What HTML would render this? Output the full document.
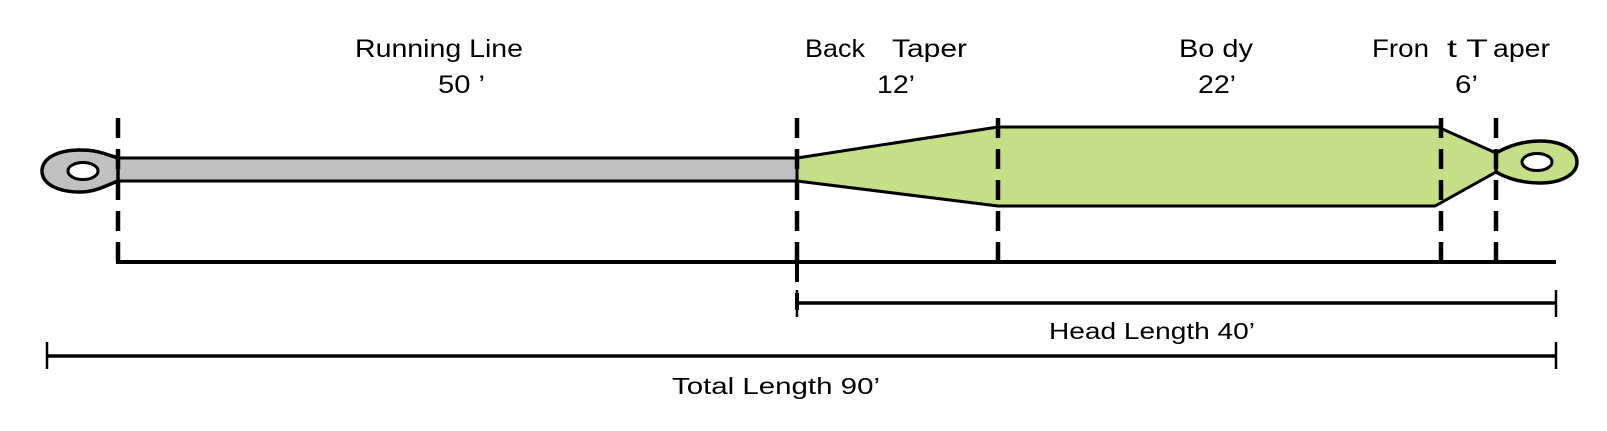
<!DOCTYPE html>
<html><head><meta charset="utf-8"><style>
html,body{margin:0;padding:0;background:#fff;}
svg{display:block;}
text{font-family:"Liberation Sans",sans-serif;fill:#000;}
</style></head><body>
<svg width="1607" height="431" viewBox="0 0 1607 431" xmlns="http://www.w3.org/2000/svg">
<!-- running line -->
<rect x="110" y="158" width="688" height="23" fill="#c0c0c0" stroke="#000" stroke-width="3"/>
<!-- left eye -->
<path d="M118,158 C100,152 95,150 80,150 C58,150 42,158 42,171 C42,184 58,192 80,192 C95,192 105,186 118,181 Z" fill="#c0c0c0" stroke="#000" stroke-width="3.5"/>
<ellipse cx="83" cy="171" rx="15" ry="8.5" fill="#fff" stroke="#000" stroke-width="3"/>
<!-- green head -->
<path d="M797,158 L998,127 L1438,127 L1496,153 L1496,172 L1435,206 L998,206 L797,181 Z" fill="#c4df86" stroke="#000" stroke-width="3"/>
<!-- right eye -->
<path d="M1496,153 C1510,145 1525,141 1540,141 C1562,141 1577,150 1577,162 C1577,174 1562,183 1540,183 C1525,183 1510,180 1496,172 Z" fill="#c4df86" stroke="#000" stroke-width="3.5"/>
<ellipse cx="1537" cy="162" rx="15" ry="8.5" fill="#fff" stroke="#000" stroke-width="3"/>
<!-- dashed lines -->
<g stroke="#000" stroke-width="4.5" stroke-dasharray="20,11">
<line x1="118" y1="118" x2="118" y2="262"/>
<line x1="797" y1="118" x2="797" y2="262"/>
<line x1="998" y1="118" x2="998" y2="262"/>
<line x1="1441" y1="118" x2="1441" y2="262"/>
<line x1="1496" y1="118" x2="1496" y2="262"/>
</g>
<line x1="797" y1="262" x2="797" y2="310" stroke="#000" stroke-width="4" stroke-dasharray="20,11" stroke-dashoffset="0"/>
<!-- baseline -->
<line x1="116" y1="262" x2="1556" y2="262" stroke="#000" stroke-width="4"/>
<!-- head length -->
<line x1="797" y1="303" x2="1556" y2="303" stroke="#000" stroke-width="3.5"/>
<line x1="797" y1="290" x2="797" y2="317" stroke="#000" stroke-width="2.5"/>
<line x1="1556" y1="290" x2="1556" y2="317" stroke="#000" stroke-width="2.5"/>
<!-- total length -->
<line x1="47" y1="356" x2="1556" y2="356" stroke="#000" stroke-width="3.5"/>
<line x1="47" y1="342" x2="47" y2="369" stroke="#000" stroke-width="2.5"/>
<line x1="1556" y1="342" x2="1556" y2="369" stroke="#000" stroke-width="2.5"/>
<!-- labels -->
<g font-size="25">
<text x="355" y="57" textLength="168" lengthAdjust="spacingAndGlyphs">Running Line</text>
<text x="438" y="93" textLength="47" lengthAdjust="spacingAndGlyphs">50 ’</text>
<text x="805" y="57" textLength="60" lengthAdjust="spacingAndGlyphs">Back</text>
<text x="892" y="57" textLength="75" lengthAdjust="spacingAndGlyphs">Taper</text>
<text x="877" y="93" textLength="38" lengthAdjust="spacingAndGlyphs">12’</text>
<text x="1179" y="57" textLength="74" lengthAdjust="spacingAndGlyphs">Bo dy</text>
<text x="1198" y="93" textLength="38" lengthAdjust="spacingAndGlyphs">22’</text>
<text x="1372" y="57" textLength="57" lengthAdjust="spacingAndGlyphs">Fron</text>
<text x="1447" y="57" textLength="41" lengthAdjust="spacingAndGlyphs">t T</text>
<text x="1493" y="57" textLength="57" lengthAdjust="spacingAndGlyphs">aper</text>
<text x="1455" y="93" textLength="23" lengthAdjust="spacingAndGlyphs">6’</text>
</g>
<g font-size="23">
<text x="1049" y="339" textLength="206" lengthAdjust="spacingAndGlyphs">Head Length 40’</text>
<text x="672" y="394" textLength="208" lengthAdjust="spacingAndGlyphs">Total Length 90’</text>
</g>
</svg>
</body></html>
